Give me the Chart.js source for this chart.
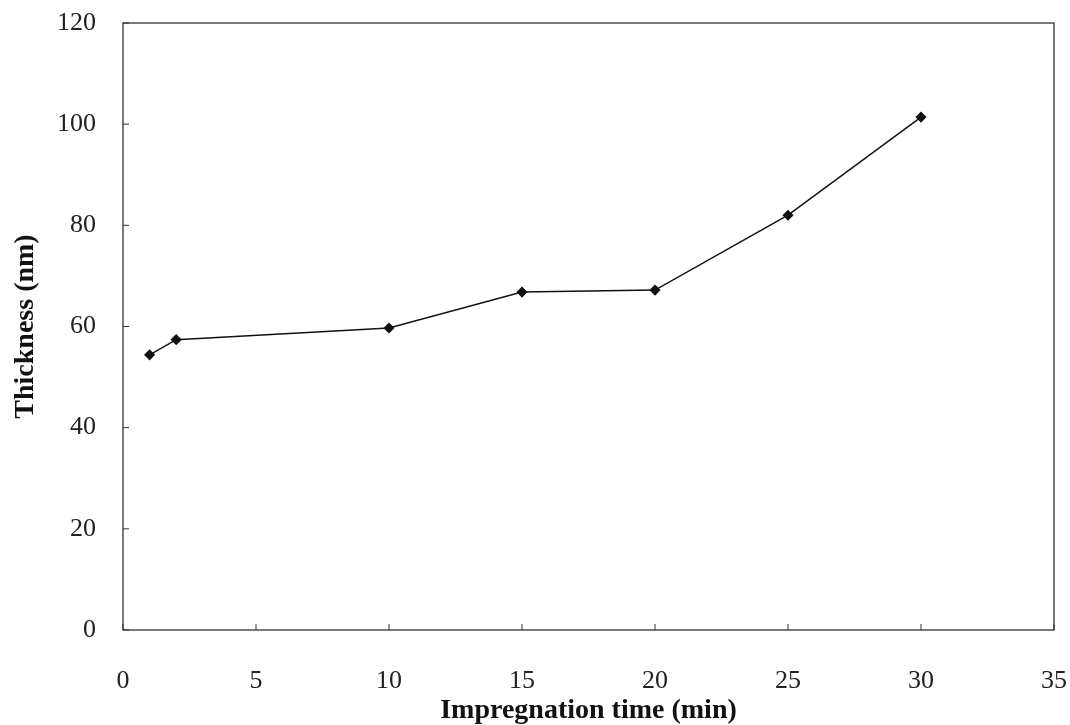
<!DOCTYPE html>
<html>
<head>
<meta charset="utf-8">
<script src="https://cdn.jsdelivr.net/npm/chart.js@4/dist/chart.umd.min.js"></script>
<style>
  html, body { margin: 0; padding: 0; background: #fff; }
  #wrap { width: 1070px; height: 725px; }
</style>
</head>
<body>
<div id="wrap"><canvas id="myChart" width="1070" height="725"></canvas></div>
<script>
// impregnation time (min) vs film thickness (nm)
const times = [1, 2, 10, 15, 20, 25, 30];
const thickness = [54.4, 57.4, 59.7, 66.8, 67.2, 82.0, 101.4];
const xTicks = [0, 5, 10, 15, 20, 25, 30, 35];
const yTicks = [0, 20, 40, 60, 80, 100, 120];

const ink = '#222';

// frame round the plot area plus short inward tick marks
const frameTicks = {
  id: 'frameTicks',
  afterDraw(chart) {
    const { ctx, chartArea: a, scales } = chart;
    ctx.save();
    ctx.strokeStyle = '#333';
    ctx.lineWidth = 1.3;
    ctx.strokeRect(a.left, a.top, a.right - a.left, a.bottom - a.top);
    ctx.lineWidth = 1;
    ctx.beginPath();
    xTicks.forEach((v) => {
      const x = scales.x.getPixelForValue(v);
      ctx.moveTo(x, a.bottom);
      ctx.lineTo(x, a.bottom - 6);
    });
    yTicks.forEach((v) => {
      const y = scales.y.getPixelForValue(v);
      ctx.moveTo(a.left, y);
      ctx.lineTo(a.left + 6, y);
    });
    ctx.stroke();
    ctx.restore();
  },
};

const chart = new Chart(document.getElementById('myChart').getContext('2d'), {
  type: 'scatter',
  data: {
    datasets: [
      {
        data: times.map((t, i) => ({ x: t, y: thickness[i] })),
        showLine: true,
        borderColor: '#111',
        borderWidth: 1.5,
        backgroundColor: '#111',
        pointStyle: 'rectRot',
        pointRadius: 4.5,
        pointHoverRadius: 4.5,
        tension: 0,
      },
    ],
  },
  options: {
    responsive: false,
    animation: false,
    layout: { autoPadding: false, padding: { top: 23, right: 16, left: 0, bottom: 0 } },
    plugins: { legend: { display: false }, tooltip: { enabled: false } },
    scales: {
      x: {
        type: 'linear',
        min: 0,
        max: 35,
        afterBuildTicks: (scale) => { scale.ticks = xTicks.map((v) => ({ value: v })); },
        afterFit: (scale) => {
          scale.height = 95;
          scale.paddingLeft = 0;
          scale.paddingRight = 0;
        },
        grid: { display: false },
        border: { display: false },
        ticks: {
          padding: 28,
          color: ink,
          font: { family: 'Liberation Serif', size: 26 },
          maxRotation: 0,
        },
        title: {
          display: true,
          text: 'Impregnation time (min)',
          color: '#111',
          font: { family: 'Liberation Serif', size: 28, weight: 'bold', lineHeight: 1 },
          padding: { top: 6, bottom: 0 },
        },
      },
      y: {
        type: 'linear',
        min: 0,
        max: 120,
        afterBuildTicks: (scale) => { scale.ticks = yTicks.map((v) => ({ value: v })); },
        afterFit: (scale) => {
          scale.width = 123;
          scale.paddingTop = 0;
          scale.paddingBottom = 0;
        },
        grid: { display: false },
        border: { display: false },
        ticks: {
          padding: 19,
          color: ink,
          font: { family: 'Liberation Serif', size: 26 },
        },
        title: {
          display: true,
          text: 'Thickness (nm)',
          color: '#111',
          font: { family: 'Liberation Serif', size: 28, weight: 'bold' },
          padding: { top: 9, bottom: 0 },
        },
      },
    },
  },
  plugins: [frameTicks],
});
</script>
</body>
</html>
